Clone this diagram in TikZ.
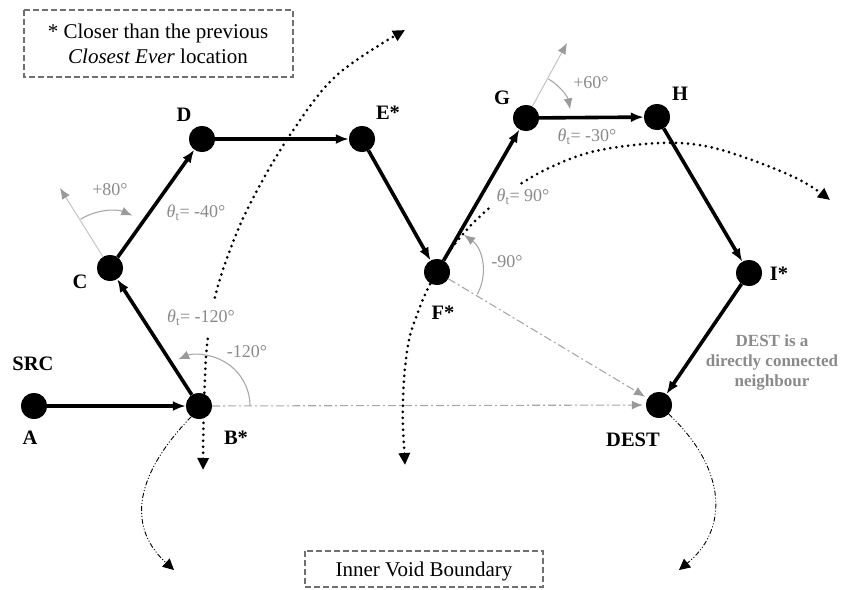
\documentclass[tikz,border=0pt]{standalone}
\usepackage{fontspec}
\setmainfont{Liberation Serif}
\usetikzlibrary{arrows.meta}
\definecolor{gtext}{HTML}{8A8A8A}
\definecolor{garc}{HTML}{A8A8A8}
\definecolor{gext}{HTML}{C4C4C4}
\definecolor{gtip}{HTML}{9A9A9A}
\definecolor{boxline}{HTML}{707070}
\begin{document}
\begin{tikzpicture}[x=1pt,y=-1pt,
  dot/.style={circle,fill=black,minimum size=26pt,inner sep=0pt},
  lbl/.style={font=\fontsize{20.5}{24}\selectfont\bfseries,inner sep=0pt},
  glbl/.style={text=gtext,font=\fontsize{18}{21}\selectfont,inner sep=1pt},
  mainarrow/.style={line width=3.6pt,-{Latex[length=13pt,width=10pt]}},
  dotcurve/.style={line width=3pt,dash pattern=on 0pt off 6pt,line cap=round,
    {Triangle[length=12pt,width=11pt]}-{Triangle[length=12pt,width=11pt]}},
  gdashdot/.style={draw=garc,line width=1.1pt,dash pattern=on 8pt off 3pt on 2pt off 3pt,
    -{Latex[length=11pt,width=9pt,color=gtip]},shorten >=3pt},
  bdashdot/.style={line width=0.9pt,dash pattern=on 5pt off 2pt on 1pt off 2pt on 1pt off 2pt,
    -{Triangle[length=11pt,width=11pt]}},
  garcstyle/.style={draw=garc,line width=1.1pt,-{Latex[length=11pt,width=9pt,color=gtip]}},
  gextstyle/.style={draw=gext,line width=1pt,-{Latex[length=11pt,width=9pt,color=gtip]}},
  legendbox/.style={draw=boxline,line width=1.1pt,dash pattern=on 6pt off 3pt}
]
\useasboundingbox (0,0) rectangle (842,589);

% nodes
\node[dot] (A) at (34,406) {};
\node[dot] (B) at (199,406) {};
\node[dot] (C) at (110,268) {};
\node[dot] (D) at (202,139) {};
\node[dot] (E) at (362,139) {};
\node[dot] (F) at (437,272) {};
\node[dot] (G) at (526,118) {};
\node[dot] (H) at (657,117) {};
\node[dot] (I) at (749,273) {};
\node[dot] (DEST) at (659,405) {};

% dotted sweep curves
\draw[dotcurve] plot[smooth,tension=0.6] coordinates {(203,470) (204,406) (207,345) (215,297) (230,250) (252,200) (290,135) (337,75) (405,30)};
\draw[dotcurve] plot[smooth,tension=0.6] coordinates {(405,465) (403,400) (408,345) (418,312) (430,284) (445,258) (463,234) (487,210) (522,183) (560,163) (600,150) (660,143) (705,146) (752,160) (800,180) (830,200)};

% thin black dash-dot-dot curves
\coordinate (bEnd) at (174,570);
\coordinate (dEnd) at (679,570);
\draw[bdashdot] (B.234) .. controls (130,480) and (130,530) .. (bEnd);
\draw[bdashdot] (DEST.-43) .. controls (728,470) and (728,530) .. (dEnd);

% gray dash-dot lines to DEST
\draw[gdashdot] (B) -- (DEST);
\draw[gdashdot] (F) -- (DEST);

% gray extension lines
\coordinate (c80) at (60,188);
\coordinate (g60) at (567,43);
\draw[gextstyle] (C) -- (c80);
\draw[gextstyle] (G) -- (g60);

% gray angle arcs
\draw[garcstyle] ([shift={(0:51)}]B.center) arc[start angle=0,end angle=-114,radius=51];
\draw[garcstyle] ([shift={(-121:57)}]C.center) arc[start angle=-121,end angle=-67,radius=57];
\draw[garcstyle] ([shift={(29:46)}]F.center) arc[start angle=29,end angle=-54,radius=46];
\draw[garcstyle] ([shift={(-60:45)}]G.center) arc[start angle=-60,end angle=-11,radius=45];

% gray labels
\node[glbl] (l80) at (110,190) {+80°};
\node[glbl] (lt40) at (196,213) {\textit{θ}\textsubscript{t}= -40°};
\node[glbl,fill=white,inner xsep=2pt,inner ysep=10pt] (lt120) at (201,318) {\textit{θ}\textsubscript{t}= -120°};
\node[glbl] (l120) at (247,352) {-120°};
\node[glbl] (l90) at (507,262) {-90°};
\node[glbl,fill=white,inner xsep=6pt,inner ysep=4pt] (lt90) at (523,197) {\textit{θ}\textsubscript{t}= 90°};
\node[glbl] (l60) at (591,83) {+60°};
\node[glbl] (lt30) at (587,137) {\textit{θ}\textsubscript{t}= -30°};

% main path arrows
\draw[mainarrow] (A) -- (B);
\draw[mainarrow] (B) -- (C);
\draw[mainarrow] (C) -- (D);
\draw[mainarrow] (D) -- (E);
\draw[mainarrow] (E) -- (F);
\draw[mainarrow] (F) -- (G);
\draw[mainarrow] (G) -- (H);
\draw[mainarrow] (H) -- (I);
\draw[mainarrow] (I) -- (DEST);

% redraw nodes on top
\foreach \n in {A,B,C,D,E,F,G,H,I,DEST} \fill (\n) circle (13pt);

% node labels
\node[lbl] (tSRC) at (33,364) {SRC};
\node[lbl] (tA) at (30,438) {A};
\node[lbl] (tB) at (236,438) {B*};
\node[lbl] (tC) at (80,282) {C};
\node[lbl] (tD) at (184,115) {D};
\node[lbl] (tE) at (388,113) {E*};
\node[lbl] (tF) at (443,313) {F*};
\node[lbl] (tG) at (502,98) {G};
\node[lbl] (tH) at (680,94) {H};
\node[lbl] (tI) at (779,274) {I*};
\node[lbl] (tDEST) at (633,440) {DEST};

% note
\node[text=gtext,font=\fontsize{17}{20}\selectfont\bfseries,align=center,inner sep=0pt] (note) at (772,362) {DEST is a\\directly connected\\neighbour};

% legend boxes
\draw[legendbox] (24,10) rectangle (293,77);
\node[font=\fontsize{21}{25}\selectfont,align=center,inner sep=0pt] (legend) at (158,44) {* Closer than the previous\\\textit{Closest Ever} location};
\draw[legendbox] (305,551) rectangle (543,587);
\node[font=\fontsize{21}{25}\selectfont,inner sep=0pt] (ivb) at (424,571) {Inner Void Boundary};
\end{tikzpicture}
\end{document}
